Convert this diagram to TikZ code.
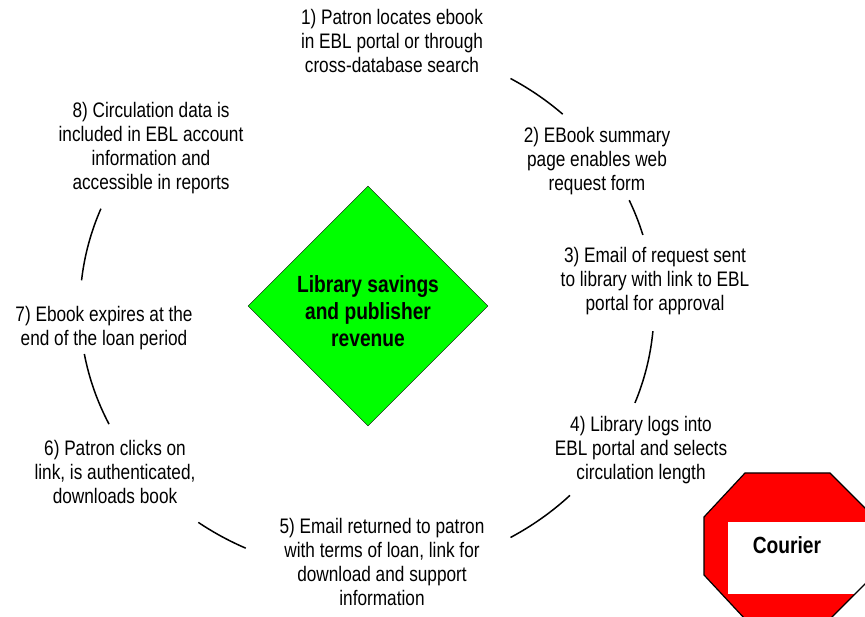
\documentclass[tikz,border=0pt]{standalone}
\usepackage{fontspec}
\setmainfont{Liberation Sans}[FakeStretch=0.82]
\usepackage{tikz}
\usetikzlibrary{shapes.geometric}
\definecolor{hubgreen}{RGB}{0,255,0}
\definecolor{stopred}{RGB}{255,0,0}
\tikzset{
  steptext/.style={align=center, inner sep=0pt, font=\fontsize{21}{24}\selectfont},
  boldtext/.style={align=center, inner sep=0pt, font=\fontsize{23.4}{27}\selectfont\bfseries},
  cyclearc/.style={line width=1.5pt},
}
\newcommand{\stoppath}{(745,144) -- (830,144) -- (874,100) -- (874,42) -- (830,-2) -- (745,-2) -- (704,42) -- (704,100) -- cycle}

\begin{document}
\begin{tikzpicture}[x=1pt,y=1pt]
    \useasboundingbox (0,0) rectangle (865,617);
    \clip (0,0) rectangle (865,617);
    \node[steptext] (s1) at (392,576) {1) Patron locates ebook\\in EBL portal or through\\cross-database search};
    \node[steptext] (s2) at (597,456) {2) EBook summary\\page enables web\\request form};
    \node[steptext] (s3) at (655,336) {3) Email of request sent\\to library with link to EBL\\portal for approval};
    \node[steptext] (s4) at (641,167) {4) Library logs into\\EBL portal and selects\\circulation length};
    \node[steptext] (s5) at (382,55) {5) Email returned to patron\\with terms of loan, link for\\download and support\\information};
    \node[steptext] (s6) at (115,145) {6) Patron clicks on\\link, is authenticated,\\downloads book};
    \node[steptext] (s7) at (104,289) {7) Ebook expires at the\\end of the loan period};
    \node[steptext] (s8) at (151,469) {8) Circulation data is\\included in EBL account\\information and\\accessible in reports};
    \node[diamond, draw, fill=hubgreen, aspect=1, minimum size=240pt, inner sep=0pt] (hub) at (368,311) {};
    \node[boldtext] (hubtext) at (368,306) {Library savings\\and publisher\\revenue};
    \coordinate (ring) at (367,309);
    \draw[cyclearc] (ring) ++(60:287pt and 265pt) arc[start angle=60, end angle=47, x radius=287pt, y radius=265pt];
    \draw[cyclearc] (ring) ++(24:287pt and 265pt) arc[start angle=24, end angle=16, x radius=287pt, y radius=265pt];
    \draw[cyclearc] (ring) ++(-5:287pt and 265pt) arc[start angle=-5, end angle=-21, x radius=287pt, y radius=265pt];
    \draw[cyclearc] (ring) ++(-45:287pt and 265pt) arc[start angle=-45, end angle=-60, x radius=287pt, y radius=265pt];
    \draw[cyclearc] (ring) ++(245:287pt and 265pt) arc[start angle=245, end angle=234, x radius=287pt, y radius=265pt];
    \draw[cyclearc] (ring) ++(206:287pt and 265pt) arc[start angle=206, end angle=190, x radius=287pt, y radius=265pt];
    \draw[cyclearc] (ring) ++(174:287pt and 265pt) arc[start angle=174, end angle=158, x radius=287pt, y radius=265pt];
    \fill[stopred] \stoppath;
    \begin{scope}
      \clip \stoppath;
      \fill[white] (728,23) rectangle (880,95);
    \end{scope}
    \draw[line width=1.2pt] \stoppath;
    \node[boldtext] (courier) at (787,72) {Courier};
  \end{tikzpicture}
\end{document}
